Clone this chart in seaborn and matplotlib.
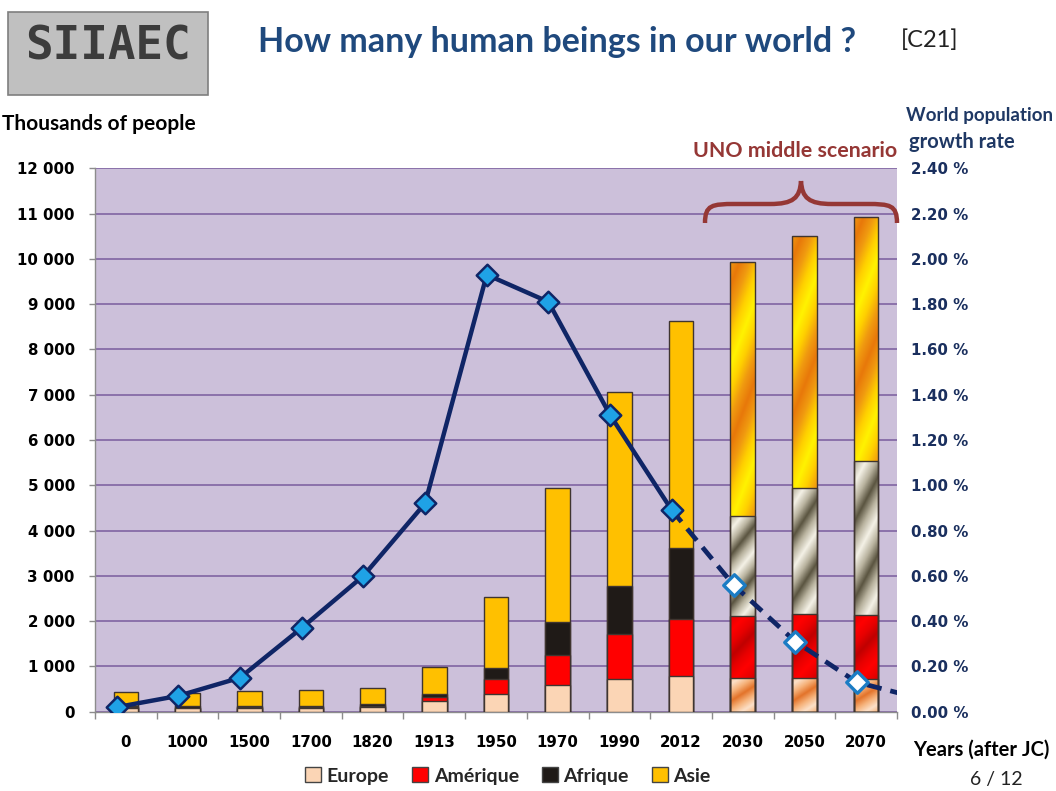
import numpy as np
import pandas as pd
import matplotlib
matplotlib.use("Agg")
import matplotlib.pyplot as plt
from matplotlib.patches import Patch, Rectangle
from matplotlib.path import Path
from matplotlib.patches import PathPatch
from matplotlib.colors import LinearSegmentedColormap
import seaborn as sns

# ---------------- data ----------------
years = ["0", "1000", "1500", "1700", "1820", "1913", "1950", "1970",
         "1990", "2012", "2030", "2050", "2070"]
europe   = [90, 80, 90, 90, 100, 240, 384, 589, 715, 789, 751, 751, 729]
amerique = [10, 10, 10, 10, 15, 95, 331, 671, 994, 1258, 1363, 1413, 1406]
afrique  = [20, 40, 35, 35, 55, 60, 257, 715, 1068, 1575, 2215, 2783, 3402]
asie     = [315, 275, 320, 345, 355, 600, 1568, 2975, 4283, 5008, 5601, 5563, 5383]
# growth rate (%), last value (2090) continues the projection beyond the frame
growth_years = years + ["2090"]
growth = [0.02, 0.07, 0.15, 0.37, 0.60, 0.92, 1.93, 1.81, 1.31, 0.89,
          0.56, 0.31, 0.13, 0.06]
projected = ["2030", "2050", "2070"]
legend_labels = ["Europe", "Amérique", "Afrique", "Asie"]
left_ticks = list(range(0, 12001, 1000))
right_ticks = [round(0.2 * k, 2) for k in range(13)]

# ---------------- style ----------------
sns.set_theme(style="white")
TXT = ["Lato", "DejaVu Sans"]
plt.rcParams["font.family"] = ["DejaVu Sans"]

C_EU, C_AM, C_AF, C_AS = "#FBD5B5", "#FF0000", "#1F1A17", "#FFC000"
BG = "#CCC0DA"
GRID = "#8064A2"
NAVY = "#0F2566"
EDGE = "#3F3530"

fig = plt.figure(figsize=(10.56, 7.91), dpi=100)
ax = fig.add_axes([95 / 1056, 1 - 711.7 / 791, 802 / 1056, 543.4 / 791])
ax.set_facecolor(BG)

df = pd.DataFrame({"year": years, "Europe": europe, "Amérique": amerique,
                   "Afrique": afrique, "Asie": asie})
df["c_eu"] = df["Europe"]
df["c_am"] = df["c_eu"] + df["Amérique"]
df["c_af"] = df["c_am"] + df["Afrique"]
df["c_as"] = df["c_af"] + df["Asie"]

layers = [("c_as", C_AS), ("c_af", C_AF), ("c_am", C_AM), ("c_eu", C_EU)]
for col, colr in layers:
    sns.barplot(data=df, x="year", y=col, order=years, color=colr,
                saturation=1, width=0.4, edgecolor=EDGE, linewidth=1.0,
                errorbar=None, ax=ax, zorder=3)

# ---- gradient fills for projected bars ----
cm_as = LinearSegmentedColormap.from_list("as", ["#FFF200", "#FFD000", "#F09A10", "#E8780A", "#F09A10", "#FFD000", "#FFF200"])
cm_af = LinearSegmentedColormap.from_list("af", ["#F4F1E6", "#B9B39F", "#5A5440", "#B9B39F", "#F4F1E6"])
cm_am = LinearSegmentedColormap.from_list("am", ["#FF0000", "#E80000", "#C00000", "#E80000", "#FF0000"])
cm_eu = LinearSegmentedColormap.from_list("eu", ["#FCE0C8", "#F6B27A", "#E3732A", "#F6B27A", "#FCE0C8"])

def stripes(nv, ku, phase, H=300, W=40):
    v = np.linspace(0, 1, H)[:, None]
    u = np.linspace(0, 1, W)[None, :]
    t = (v * nv - u * ku + phase) % 1.0
    return t

seg_defs = [("c_eu", None, cm_eu, 1.0, 0.45, 0.2),
            ("c_am", "c_eu", cm_am, 1.2, 0.5, 0.1),
            ("c_af", "c_am", cm_af, 2.0, 0.6, 0.3),
            ("c_as", "c_af", cm_as, 1.6, 0.4, 0.05)]
bars_by_layer = [c for c in ax.containers]
for yr in projected:
    i = years.index(yr)
    row = df.iloc[i]
    for top, bot, cm, nv, ku, ph in seg_defs:
        lo = 0 if bot is None else row[bot]
        hi = row[top]
        img = stripes(nv, ku, ph)
        ax.imshow(img, cmap=cm, vmin=0, vmax=1, origin="lower",
                  extent=[i - 0.2, i + 0.2, lo, hi], aspect="auto",
                  interpolation="bilinear", zorder=3.2)
    for cont in bars_by_layer:
        p = cont.patches[i]
        p.set_facecolor("none")
        p.set_zorder(3.5)

ax.set_xlim(-0.5, len(years) - 0.5)
ax.set_ylim(0, 12000)
ax.set_yticks(left_ticks)
ax.set_yticklabels([f"{v:,}".replace(",", " ") for v in left_ticks])
ax.yaxis.grid(True, color=GRID, linewidth=1.2, zorder=0)
ax.set_axisbelow(True)
ax.set_xlabel("")
ax.set_ylabel("")
for s in ["top", "right"]:
    ax.spines[s].set_visible(False)
for s in ["left", "bottom"]:
    ax.spines[s].set_color("#8C8C8C")
    ax.spines[s].set_linewidth(1.0)
ax.tick_params(axis="y", which="major", length=4.5, color="#8C8C8C",
               width=1, pad=10, labelsize=10.8, left=True)
ax.tick_params(axis="x", which="major", length=0, pad=17, labelsize=10.8)
ax.set_xticks(np.arange(-0.5, len(years), 1.0), minor=True)
ax.tick_params(axis="x", which="minor", length=5, color="#8C8C8C",
               width=1, bottom=True)
for lab in ax.get_xticklabels() + ax.get_yticklabels():
    lab.set_fontweight("bold")
    lab.set_color("black")

# ---------------- growth rate line ----------------
ax2 = ax.twinx()
ax2.set_ylim(0, 2.4)
ax2.set_xlim(-0.5, len(years) - 0.5)
xpos = np.arange(len(growth_years)) - 0.15
g_hist = pd.DataFrame({"x": xpos[:10], "g": growth[:10]})
g_proj = pd.DataFrame({"x": xpos[9:], "g": growth[9:]})
sns.lineplot(data=g_proj, x="x", y="g", ax=ax2, color=NAVY, linewidth=3.4,
             linestyle=(0, (3.2, 1.9)), errorbar=None, zorder=4)
sns.lineplot(data=g_hist, x="x", y="g", ax=ax2, color=NAVY, linewidth=3.2,
             errorbar=None, zorder=5)
sns.scatterplot(x=xpos[:10], y=growth[:10], ax=ax2, marker="D", s=120,
                color="#1FA2E6", edgecolor=NAVY, linewidth=1.8, zorder=6)
sns.scatterplot(x=xpos[10:13], y=growth[10:13], ax=ax2, marker="D", s=120,
                color="white", edgecolor="#1B7CC4", linewidth=2.4, zorder=6)
ax2.set_xlim(-0.5, len(years) - 0.5)
ax2.set_ylim(0, 2.4)
ax2.set_yticks(right_ticks)
ax2.set_yticklabels([f"{v:.2f} %" for v in right_ticks])
ax2.tick_params(axis="y", length=0, pad=10, labelsize=10.8, labelcolor="#1A2F5E")
for lab in ax2.get_yticklabels():
    lab.set_fontweight("bold")
ax2.set_ylabel("")
ax2.set_xlabel("")
for s in ["top", "right", "left", "bottom"]:
    ax2.spines[s].set_visible(False)
ax2.grid(False)

# ---------------- brace ----------------
brace_col = "#953735"
verts = [(705, 223), (705, 205), (712, 204), (735, 204),
         (770, 204), (793, 204), (800, 198), (801, 181)]
verts2 = [(801, 181), (802, 198), (809, 204), (832, 204),
          (867, 204), (890, 204), (897, 205), (897, 223)]
def to_fig(pts):
    return [(x / 1056, 1 - y / 791) for x, y in pts]
codes = [Path.MOVETO, Path.CURVE4, Path.CURVE4, Path.CURVE4,
         Path.LINETO, Path.CURVE4, Path.CURVE4, Path.CURVE4]
for vv in (verts, verts2):
    fig.patches.append(PathPatch(Path(to_fig(vv), codes), transform=fig.transFigure,
                                 fill=False, edgecolor=brace_col, linewidth=3.2,
                                 capstyle="butt", zorder=10))

# ---------------- header ----------------
fig.patches.append(Rectangle((8 / 1056, 1 - 95 / 791), 200 / 1056, 83 / 791,
                             transform=fig.transFigure, facecolor="#C0C0C0",
                             edgecolor="#7F7F7F", linewidth=1.2))
fig.text(108 / 1056, 1 - 47 / 791, "SIIAEC", ha="center", va="center",
         fontsize=33, fontweight="bold", color="#3C3C3C",
         family=["DejaVu Sans Mono"])
fig.text(557 / 1056, 1 - 42 / 791, "How many human beings in our world ?",
         ha="center", va="center", fontsize=24.5, fontweight="bold",
         color="#1F497D", family=TXT)
fig.text(930 / 1056, 1 - 40 / 791, "[C21]", ha="center", va="center",
         fontsize=17, color="#222222", family=TXT)
fig.text(2 / 1056, 1 - 124 / 791, "Thousands of people", ha="left", va="center",
         fontsize=15, fontweight="bold", color="black", family=TXT)
fig.text(979 / 1056, 1 - 116 / 791, "World population", ha="center", va="center",
         fontsize=13.5, fontweight="bold", color="#1F3864", family=TXT)
fig.text(909 / 1056, 1 - 142 / 791, "growth rate", ha="left", va="center",
         fontsize=14.5, fontweight="bold", color="#1F3864", family=TXT)
fig.text(795 / 1056, 1 - 151 / 791, "UNO middle scenario", ha="center", va="center",
         fontsize=15.4, fontweight="bold", color=brace_col, family=TXT)
fig.text(981 / 1056, 1 - 750 / 791, "Years (after JC)", ha="center", va="center",
         fontsize=14.5, fontweight="bold", color="black", family=TXT)
fig.text(996 / 1056, 1 - 780 / 791, "6 / 12", ha="center", va="center",
         fontsize=14, color="#222222", family=TXT)

# ---------------- legend ----------------
handles = [Patch(facecolor=c, edgecolor="#444444", linewidth=1.0)
           for c in (C_EU, C_AM, C_AF, C_AS)]
leg = fig.legend(handles, legend_labels, loc="center",
                 bbox_to_anchor=(508 / 1056, 1 - 776 / 791), ncol=4,
                 frameon=False, handlelength=0.8, handleheight=0.8,
                 handletextpad=0.3, columnspacing=1.2,
                 prop={"family": TXT, "weight": "bold", "size": 14})

fig.savefig("out.png", dpi=100, facecolor="white")
